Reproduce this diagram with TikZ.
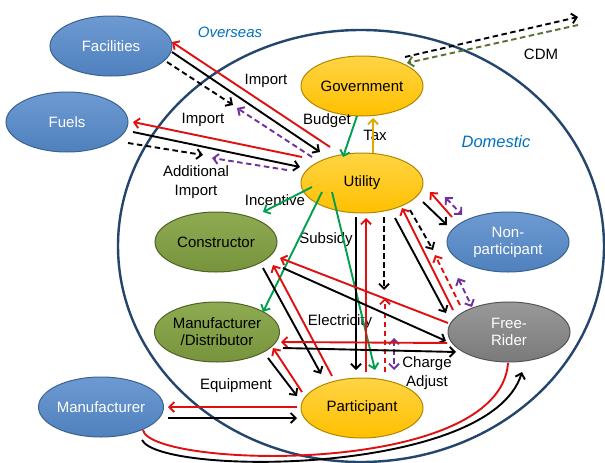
\documentclass[tikz,border=0pt]{standalone}
\usepackage{fontspec}
\setmainfont{Liberation Sans}
\usetikzlibrary{arrows.meta,shapes.geometric,calc}
\definecolor{bluebase}{HTML}{4F81BD}
\definecolor{bluelt}{HTML}{6E9AD2}
\definecolor{bluedk}{HTML}{3A6391}
\definecolor{yelbase}{HTML}{FFC000}
\definecolor{yellt}{HTML}{FFD444}
\definecolor{yeldk}{HTML}{B08800}
\definecolor{grnbase}{HTML}{77933C}
\definecolor{grnlt}{HTML}{8FAB52}
\definecolor{grndk}{HTML}{4F6228}
\definecolor{graybase}{HTML}{7A7A7A}
\definecolor{graylt}{HTML}{999999}
\definecolor{graydk}{HTML}{555555}
\definecolor{circ}{HTML}{24456C}
\definecolor{lblblue}{HTML}{0070C0}
\definecolor{ared}{HTML}{E01010}
\definecolor{agreen}{HTML}{00A050}
\definecolor{apurple}{HTML}{7030A0}
\definecolor{agold}{HTML}{E0A800}
\definecolor{aolive}{HTML}{5A7030}
\begin{document}
\begin{tikzpicture}[x=1pt,y=-1pt,
  ent/.style={ellipse, minimum width=122pt, minimum height=60pt, inner sep=0pt,
    align=center, font=\fontsize{15}{17}\selectfont, line width=1pt},
  bluenode/.style={ent, draw=bluedk, top color=bluelt, bottom color=bluebase, text=white},
  yelnode/.style={ent, draw=yeldk, top color=yellt, bottom color=yelbase, text=black},
  grnnode/.style={ent, draw=grndk, top color=grnlt, bottom color=grnbase, text=black},
  graynode/.style={ent, draw=graydk, top color=graylt, bottom color=graybase, text=white},
  conn/.style={line width=1.9pt, -{Straight Barb[length=5pt,width=10pt]}},
  dconn/.style={line width=1.9pt, {Straight Barb[length=5pt,width=10pt]}-{Straight Barb[length=5pt,width=10pt]}},
  plainline/.style={line width=1.9pt},
  dsh/.style={dash pattern=on 5.5pt off 3.5pt},
  lbl/.style={font=\fontsize{15}{19}\selectfont, align=center, inner sep=0pt},
  region/.style={font=\fontsize{15}{19}\selectfont\itshape, text=lblblue, inner sep=0pt}]
\useasboundingbox (0,0) rectangle (605,463);
\fill[white] (0,0) rectangle (605,463);
% domestic boundary
\draw[circ, line width=2.4pt] (361,246) ellipse [x radius=243, y radius=216];

% nodes
\node[bluenode] (fac) at (111,46) {Facilities};
\node[bluenode] (fuel) at (67,122) {Fuels};
\node[yelnode] (gov) at (362,86) {Government};
\node[yelnode] (util) at (362,183) {Utility};
\node[grnnode] (cons) at (216,242) {Constructor};
\node[bluenode] (nonp) at (508,242) {Non-\\participant};
\node[grnnode] (md) at (217,332) {Manufacturer\\/Distributor};
\node[graynode] (free) at (509,332) {Free-\\Rider};
\node[yelnode] (part) at (362,408) {Participant};
\node[bluenode] (manu) at (101,407) {Manufacturer};

% free ends
\coordinate (facEnd) at (233,105);
\coordinate (facBack) at (237,108);
\coordinate (fuelEnd) at (203,155);
\coordinate (fuelBack) at (212,158);
\coordinate (cdmOut) at (578,17);
\coordinate (cdmIn) at (578,25);
\coordinate (partEnd) at (384,290);
\coordinate (partBack) at (385,298);
\coordinate (chargeTop) at (394,338);
\coordinate (freeEnd) at (433,250);
\coordinate (freeBack) at (435,255);
\coordinate (freeAdj) at (458,278);

% labels
\node[region] (overseas) at (230,32) {Overseas};
\node[region, font=\fontsize{16.5}{19}\selectfont\itshape] (domestic) at (496,142) {Domestic};
\node[lbl] (cdm) at (541,54) {CDM};
\node[lbl] (imp1) at (266,81) {Import};
\node[lbl] (imp2) at (203,120) {Import};
\node[lbl] (budget) at (327,121) {Budget};
\node[lbl] (tax) at (375,135) {Tax};
\node[lbl] (addimp) at (196,182) {Additional\\Import};
\node[lbl] (incent) at (275,200) {Incentive};
\node[lbl] (subsidy) at (326,240) {Subsidy};
\node[lbl] (elec) at (340,322) {Electricity};
\node[lbl] (charge) at (427,373) {Charge\\Adjust};
\node[lbl] (equip) at (236,386) {Equipment};

% curves between Manufacturer and Free-Rider
\draw[plainline, ared] ($(manu)+(42,23)$) .. controls (150,468) and (500,478) .. ($(free)+(-1,31)$);
\draw[conn, black] ($(manu)+(41,33)$) .. controls (160,476) and (490,476) .. ($(free)+(13,40)$);

% Facilities <-> Utility
\draw[conn, ared] ($(util)+(-32,-36)$) -- ($(fac)+(61,-4)$);
\draw[conn, black] ($(fac)+(61,6)$) -- ($(util)+(-42,-31)$);
\draw[conn, black, dsh] ($(fac)+(56,16)$) -- (facEnd);
\draw[conn, apurple, dsh] ($(util)+(-50,-26)$) -- (facBack);
% Fuels <-> Utility
\draw[conn, ared] ($(util)+(-60,-26)$) -- ($(fuel)+(66,0)$);
\draw[conn, black] ($(fuel)+(66,10)$) -- ($(util)+(-62,-16)$);
\draw[conn, black, dsh] ($(fuel)+(61,21)$) -- (fuelEnd);
\draw[conn, apurple, dsh] ($(util)+(-75,-13)$) -- (fuelBack);
% Government <-> Utility
\draw[conn, agreen] ($(gov)+(-5,30)$) -- ($(util)+(-19,-26)$);
\draw[conn, agold] ($(util)+(11,-30)$) -- ($(gov)+(11,32)$);
% CDM
\draw[conn, black, dsh] ($(gov)+(43,-29)$) -- (cdmOut);
\draw[conn, aolive, dsh] (cdmIn) -- ($(gov)+(45,-23)$);
% Utility green
\draw[conn, agreen] ($(util)+(-50,4)$) -- ($(cons)+(47,-30)$);
\draw[conn, agreen] ($(util)+(-40,9)$) -- ($(md)+(46,-20)$);
\draw[conn, agreen] ($(util)+(-30,9)$) -- ($(part)+(13,-38)$);
% Utility <-> Participant
\draw[conn, black] ($(util)+(-6,34)$) -- ($(part)+(-6,-38)$);
\draw[conn, ared] ($(part)+(4,-36)$) -- ($(util)+(4,35)$);
\draw[conn, black, dsh] ($(util)+(22,34)$) -- (partEnd);
\draw[conn, ared, dsh] ($(part)+(23,-36)$) -- (partBack);
\draw[dconn, apurple, dsh] (chargeTop) -- ($(part)+(32,-38)$);
% Utility <-> Non-participant
\draw[conn, black] ($(util)+(61,19)$) -- ($(nonp)+(-61,-17)$);
\draw[conn, ared] ($(nonp)+(-56,-25)$) -- ($(util)+(68,9)$);
\draw[dconn, apurple, dsh] ($(util)+(83,14)$) -- ($(nonp)+(-46,-27)$);
% Utility <-> Free-Rider
\draw[conn, black] ($(util)+(33,35)$) -- ($(free)+(-63,-19)$);
\draw[conn, ared] ($(free)+(-56,-22)$) -- ($(util)+(40,25)$);
\draw[conn, black, dsh] ($(util)+(48,27)$) -- (freeEnd);
\draw[conn, ared, dsh] ($(free)+(-49,-27)$) -- (freeBack);
\draw[dconn, apurple, dsh] (freeAdj) -- ($(free)+(-37,-25)$);
% Constructor <-> Free-Rider / Participant
\draw[conn, ared] ($(free)+(-61,-9)$) -- ($(cons)+(64,16)$);
\draw[conn, black] ($(cons)+(67,26)$) -- ($(free)+(-63,9)$);
\draw[conn, black] ($(cons)+(47,26)$) -- ($(part)+(-41,-34)$);
\draw[conn, ared] ($(part)+(-30,-32)$) -- ($(cons)+(57,23)$);
% Manufacturer/Distributor
\draw[conn, black] ($(md)+(51,26)$) -- ($(part)+(-65,-12)$);
\draw[conn, ared] ($(part)+(-60,-16)$) -- ($(md)+(56,16)$);
\draw[conn, ared] ($(free)+(-62,11)$) -- ($(md)+(64,10)$);
\draw[conn, black] ($(md)+(66,16)$) -- ($(free)+(-53,20)$);
% Manufacturer (overseas)
\draw[conn, ared] ($(part)+(-65,-1)$) -- ($(manu)+(67,0)$);
\draw[conn, black] ($(manu)+(67,11)$) -- ($(part)+(-65,10)$);
\end{tikzpicture}
\end{document}
